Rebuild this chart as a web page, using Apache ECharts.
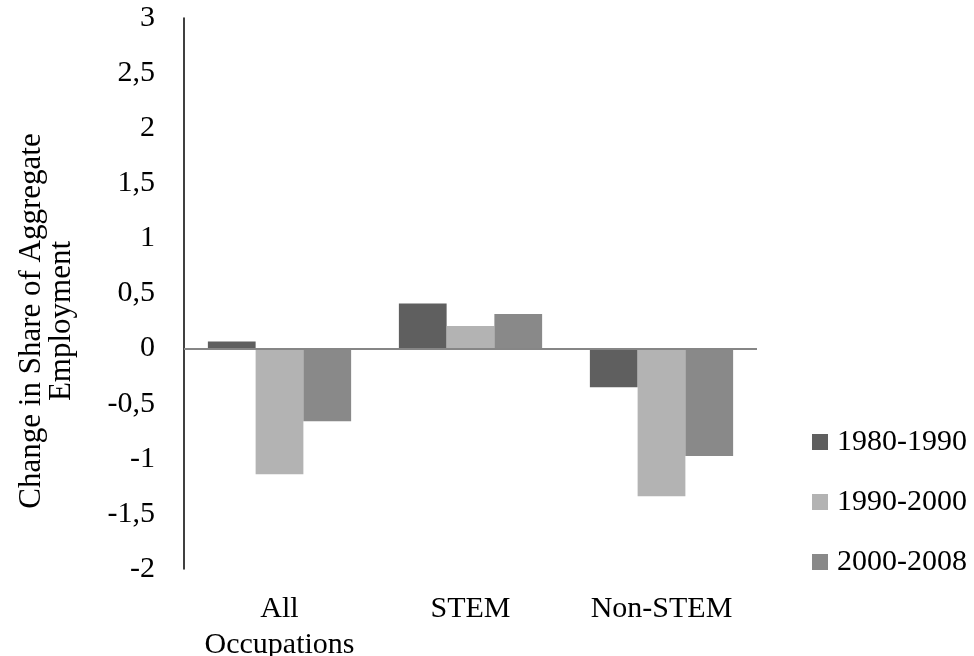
<!DOCTYPE html>
<html>
<head>
<meta charset="utf-8">
<script src="https://cdn.jsdelivr.net/npm/echarts@6/dist/echarts.min.js"></script>
<style>
html,body{margin:0;padding:0;background:#fff;}
#chart{width:974px;height:656px;}
</style>
</head>
<body>
<div id="chart"></div>
<script>
var categories = ['All Occupations', 'STEM', 'Non-STEM'];
var seriesNames = ['1980-1990', '1990-2000', '2000-2008'];
var values1980 = [0.065, 0.41, -0.35];
var values1990 = [-1.14, 0.205, -1.34];
var values2000 = [-0.66, 0.315, -0.975];
var yTitle = 'Change in Share of Aggregate\nEmployment';

var font = 'Liberation Serif';
var colors = ['#5f5f5f', '#b3b3b3', '#898989'];
var seriesData = [values1980, values1990, values2000];

var chart = echarts.init(document.getElementById('chart'), null, {renderer: 'canvas'});
var series = seriesNames.map(function (name, i) {
  var s = {
    name: name,
    type: 'bar',
    data: seriesData[i],
    barGap: '0%',
    barCategoryGap: '25%',
    itemStyle: {color: colors[i]},
    silent: true
  };
  if (i === 2) {
    s.markLine = {
      silent: true,
      symbol: 'none',
      label: {show: false},
      lineStyle: {color: '#868686', width: 2, type: 'solid'},
      data: [{yAxis: 0}]
    };
  }
  return s;
});

chart.setOption({
  animation: false,
  color: colors,
  textStyle: {fontFamily: font},
  grid: {left: 184, right: 217, top: 18, bottom: 87, containLabel: false, outerBoundsMode: 'none'},
  legend: {
    orient: 'vertical',
    left: 812,
    top: 427,
    padding: 0,
    itemWidth: 16,
    itemHeight: 16,
    itemGap: 30,
    icon: 'rect',
    data: seriesNames,
    textStyle: {fontFamily: font, fontSize: 30, color: '#000', padding: [0, 0, 0, 4]}
  },
  xAxis: {
    type: 'category',
    data: categories,
    axisLine: {show: false, onZero: false},
    axisTick: {show: false},
    axisLabel: {
      interval: 0,
      hideOverlap: false,
      fontFamily: font,
      fontSize: 30,
      color: '#000',
      margin: 22,
      lineHeight: 36,
      formatter: function (v) { return v === 'All Occupations' ? 'All\nOccupations' : v; }
    }
  },
  yAxis: {
    type: 'value',
    min: -2,
    max: 3,
    interval: 0.5,
    axisLine: {show: true, lineStyle: {color: '#000', width: 1.5}},
    axisTick: {show: false},
    splitLine: {show: false},
    axisLabel: {
      fontFamily: font,
      fontSize: 30,
      color: '#000',
      margin: 29,
      formatter: function (v) { return String(v).replace('.', ','); }
    }
  },
  graphic: [{
    type: 'text',
    x: 47,
    y: 321,
    rotation: Math.PI / 2,
    style: {
      text: yTitle,
      font: '31px "Liberation Serif"',
      fill: '#000',
      align: 'center',
      verticalAlign: 'middle',
      lineHeight: 30
    }
  }],
  series: series
});
</script>
</body>
</html>
